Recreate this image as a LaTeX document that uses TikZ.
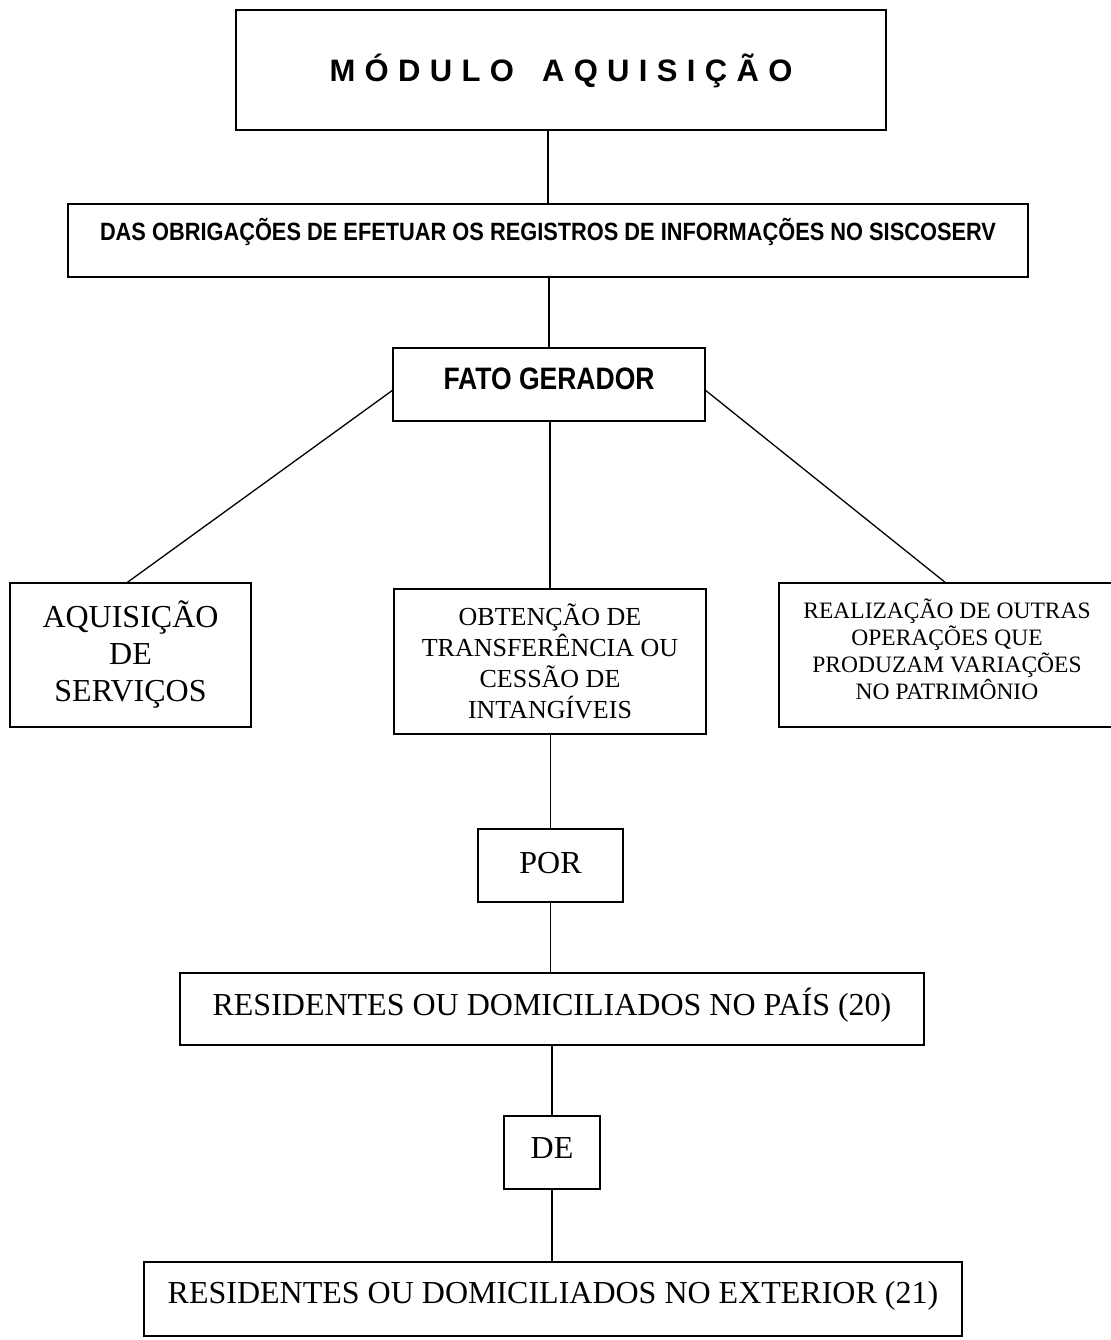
\documentclass[tikz,border=0pt]{standalone}
\usepackage{fontspec}
\usepackage{graphicx}
\setmainfont{Liberation Serif}
\newfontfamily\hv{Liberation Sans}
\begin{document}
\begin{tikzpicture}[x=1pt,y=-1pt,
  box/.style={draw, line width=1.5pt, inner sep=0pt, align=center},
  conn/.style={line width=1.3pt},
  big/.style={font=\fontsize{32}{37}\selectfont}]
\path[fill=white, use as bounding box] (0,0) rectangle (1110,1340);

\node[box, minimum width=650pt, minimum height=120pt, text height=24pt, text depth=0pt] (b1) at (561,70)
  {\hv\bfseries\fontsize{31}{37}\selectfont\makebox[463pt][s]{M\hfill Ó\hfill D\hfill U\hfill L\hfill O\hfill\hfill\hfill A\hfill Q\hfill U\hfill I\hfill S\hfill I\hfill Ç\hfill Ã\hfill O}};

\node[box, minimum width=960pt, minimum height=73pt, text height=18pt, text depth=18pt] (b2) at (548,240.5)
  {\hv\bfseries\fontsize{25}{30}\selectfont\resizebox{896pt}{\height}{DAS OBRIGAÇÕES DE EFETUAR OS REGISTROS DE INFORMAÇÕES NO SISCOSERV}};

\node[box, minimum width=312pt, minimum height=73pt, text height=22pt, text depth=13pt] (b3) at (549,384.5)
  {\hv\bfseries\fontsize{31}{37}\selectfont\resizebox{211pt}{\height}{FATO GERADOR}};

\node[box, minimum width=241pt, minimum height=144pt, font=\fontsize{32}{37}\selectfont] (b4) at (130.5,655)
  {AQUISIÇÃO\\DE\\SERVIÇOS};

\node[box, minimum width=312pt, minimum height=145pt, font=\fontsize{26}{31}\selectfont] (b5) at (550,661.5)
  {OBTENÇÃO DE\\TRANSFERÊNCIA OU\\CESSÃO DE\\INTANGÍVEIS};

\node[box, minimum width=336pt, minimum height=144pt,
  label={[yshift=6pt, align=center, font=\fontsize{23.5}{27}\selectfont]center:REALIZAÇÃO DE OUTRAS\\OPERAÇÕES QUE\\PRODUZAM VARIAÇÕES\\NO PATRIMÔNIO}] (b6) at (947,655) {};

\node[box, big, minimum width=145pt, minimum height=73pt, text height=22pt, text depth=7pt] (b7) at (550.5,865.5) {POR};

\node[box, big, minimum width=744pt, minimum height=72pt, text height=22pt, text depth=10pt] (b8) at (552,1009)
  {RESIDENTES OU DOMICILIADOS NO PAÍS (20)};

\node[box, big, minimum width=96pt, minimum height=73pt, text height=22pt, text depth=11pt] (b9) at (552,1152.5) {DE};

\node[box, big, minimum width=818pt, minimum height=74pt, text height=22pt, text depth=14pt] (b10) at (553,1299)
  {RESIDENTES OU DOMICILIADOS NO EXTERIOR (21)};

\draw[conn] (b2.north) -- (b2.north |- b1.south);
\draw[conn] (b3.north) -- (b3.north |- b2.south);
\draw[conn] ([yshift=-6pt]b3.west) -- ([xshift=-3pt]b4.north);
\draw[conn] ([yshift=-6pt]b3.east) -- ([xshift=-2pt]b6.north);
\draw[conn] (b5.north) -- (b5.north |- b3.south);
\draw[conn] (b7.north) -- (b7.north |- b5.south);
\draw[conn] (b7.south) -- (b7.south |- b8.north);
\draw[conn] (b9.north) -- (b9.north |- b8.south);
\draw[conn] (b9.south) -- (b9.south |- b10.north);
\end{tikzpicture}
\end{document}
